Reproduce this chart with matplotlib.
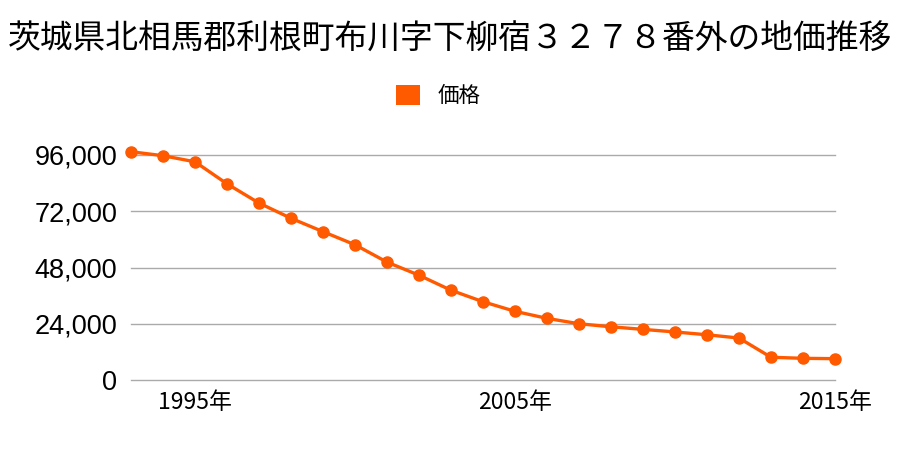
import matplotlib
matplotlib.use('Agg')
from matplotlib import pyplot as plt

# 年と価格（円/m2）
years = list(range(1993, 2016))
prices = [97400, 95700, 93100, 83700, 75500, 69000, 63300, 57700, 50300, 44700,
          38300, 33400, 29300, 26300, 24000, 22700, 21600, 20500, 19300, 17900,
          9700, 9250, 9100]
yticks = [0, 24000, 48000, 72000, 96000]
xticks = [1995, 2005, 2015]
xticklabels = ['1995年', '2005年', '2015年']
title = '茨城県北相馬郡利根町布川字下柳宿３２７８番外の地価推移'

plt.rcParams['font.family'] = ['Noto Sans CJK JP', 'DejaVu Sans']
color = '#ff5a00'

fig = plt.figure(figsize=(9, 4.5), dpi=100)
ax = fig.add_axes([131 / 900, 1 - 380 / 450, 704 / 900, 225 / 450])

ax.plot(years, prices, c=color, lw=2.4, marker='o', ms=8, clip_on=False,
        label='価格', zorder=3)

ax.set_xlim(1993, 2015)
ax.set_ylim(0, 96000)
ax.set_yticks(yticks)
ax.set_yticklabels([f'{v:,}' for v in yticks], family=['Liberation Sans'], fontsize=19.5)
ax.set_xticks(xticks)
ax.set_xticklabels(xticklabels, fontsize=16.5)
ax.tick_params(axis='y', length=0, pad=10)
ax.tick_params(axis='x', length=0, pad=8)
ax.grid(axis='y', color='#aaaaaa', lw=1)
for gl in ax.get_ygridlines():
    gl.set_clip_on(False)
ax.set_axisbelow(True)
for s in ax.spines.values():
    s.set_visible(False)

fig.text(0.5, 1 - 40 / 450, title, ha='center', va='center', fontsize=23.6)

leg = fig.legend(handles=[plt.Rectangle((0, 0), 1, 1, fc=color)], labels=['価格'],
                 loc='center', bbox_to_anchor=(0.487, 1 - 96 / 450), frameon=False,
                 fontsize=15.5, handlelength=1.1, handleheight=1.1, handletextpad=0.8)

plt.savefig('out.png', dpi=100)
